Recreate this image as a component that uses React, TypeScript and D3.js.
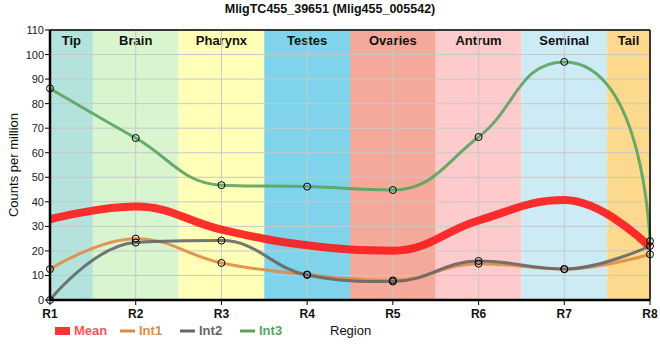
import React from "react";
import * as d3 from "d3";

const regions = ["R1", "R2", "R3", "R4", "R5", "R6", "R7", "R8"];
const int1 = [12.6, 25, 15.1, 10.4, 8.0, 14.8, 12.6, 18.6];
const int2 = [0, 23.4, 24.2, 10.2, 7.5, 15.9, 12.6, 22.0];
const int3 = [86.2, 66, 46.8, 46.2, 44.8, 66.4, 97, 24.0];
const mean = [32.9, 38.1, 28.7, 22.3, 20.1, 32.4, 40.7, 21.5];
const yTicks = [0, 10, 20, 30, 40, 50, 60, 70, 80, 90, 100, 110];
const bandNames = ["Tip", "Brain", "Pharynx", "Testes", "Ovaries", "Antrum", "Seminal", "Tail"];
const bandColors = ["#b4e3de", "#d9f5d0", "#ffffb7", "#7fd4eb", "#f4a99b", "#fdcbcb", "#cdebf4", "#fcd98c"];

const W = 660, H = 360;
const L = 50, R = 650, T = 30, B = 300;

// Smooth spline: tangent from neighbours (no false extremes),
// handle length proportional to the pixel chord of each segment.
function splinePath(pts: [number, number][]): string {
  const n = pts.length;
  const K = 0.4;
  const slopes: (number | null)[] = [];
  for (let i = 0; i < n; i++) {
    if (i === 0 || i === n - 1) {
      slopes.push(null);
      continue;
    }
    const [x, y] = pts[i];
    const [px, py] = pts[i - 1];
    const [nx, ny] = pts[i + 1];
    const lx = x + K * (px - x);
    let ly = y + K * (py - y);
    const rx = x + K * (nx - x);
    let ry = y + K * (ny - y);
    const corr = ((ry - ly) * (rx - x)) / (rx - lx) + y - ry;
    ly += corr;
    ry += corr;
    if (ly > py && ly > y) {
      ly = Math.max(py, y);
      ry = 2 * y - ly;
    } else if (ly < py && ly < y) {
      ly = Math.min(py, y);
      ry = 2 * y - ly;
    }
    if (ry > ny && ry > y) {
      ry = Math.max(ny, y);
      ly = 2 * y - ry;
    } else if (ry < ny && ry < y) {
      ry = Math.min(ny, y);
      ly = 2 * y - ry;
    }
    slopes.push((ry - ly) / (rx - lx));
  }
  const ctrl = (i: number, dir: 1 | -1, chord: number, dxSeg: number): [number, number] => {
    const m = slopes[i];
    if (m === null) return pts[i];
    const len = K * chord;
    const norm = Math.sqrt(1 + m * m);
    let dx = len / norm;
    if (dx > dxSeg * 0.95) dx = dxSeg * 0.95;
    return [pts[i][0] + dir * dx, pts[i][1] + dir * dx * m];
  };
  const p = d3.path();
  p.moveTo(pts[0][0], pts[0][1]);
  for (let i = 1; i < n; i++) {
    const [x0, y0] = pts[i - 1];
    const [x1, y1] = pts[i];
    const chord = Math.hypot(x1 - x0, y1 - y0);
    const c1 = ctrl(i - 1, 1, chord, x1 - x0);
    const c2 = ctrl(i, -1, chord, x1 - x0);
    p.bezierCurveTo(c1[0], c1[1], c2[0], c2[1], x1, y1);
  }
  return p.toString();
}

export default function App() {
  const x = d3.scalePoint<string>().domain(regions).range([L, R]);
  const y = d3.scaleLinear().domain([0, 110]).range([B, T]);
  const step = x.step();
  const line = (vals: number[]) =>
    splinePath(vals.map((v, i) => [x(regions[i]) as number, y(v)] as [number, number]));

  const series = [
    { name: "Int1", values: int1, color: "#e08b45", width: 3 },
    { name: "Int2", values: int2, color: "#666666", width: 3 },
    { name: "Int3", values: int3, color: "#5aa35f", width: 3 },
  ];

  const font = "Liberation Sans, Arial, sans-serif";

  return (
    <svg width={W} height={H} style={{ position: "absolute", left: 0, top: 0 }} fontFamily={font}>
      <rect x={0} y={0} width={W} height={H} fill="#fff" />
      {bandNames.map((n, i) => {
        const cx = x(regions[0]) as number;
        const x0 = Math.max(L, cx + (i - 0.5) * step);
        const x1 = Math.min(R, cx + (i + 0.5) * step);
        return (
          <g key={n}>
            <rect x={x0} y={T} width={x1 - x0} height={B - T} fill={bandColors[i]} />
            <text x={(x0 + x1) / 2} y={T + 15} textAnchor="middle" fontSize={13} fontWeight="bold" fill="#111">
              {n}
            </text>
          </g>
        );
      })}
      {yTicks.map((t) => (
        <line key={"gy" + t} x1={L} x2={R} y1={y(t)} y2={y(t)} stroke="#c8c8c8" strokeWidth={1} />
      ))}
      {regions.map((r) => (
        <line key={"gx" + r} x1={x(r)} x2={x(r)} y1={T} y2={B} stroke="#c8c8c8" strokeWidth={1} />
      ))}
      <path d={line(mean)} fill="none" stroke="#ff1a1a" strokeOpacity={0.9} strokeWidth={8} />
      {series.map((s) => (
        <path key={s.name} d={line(s.values)} fill="none" stroke={s.color} strokeOpacity={0.9} strokeWidth={s.width} />
      ))}
      {series.map((s) =>
        s.values.map((v, i) => (
          <circle key={s.name + i} cx={x(regions[i])} cy={y(v)} r={3.5} fill="none" stroke="#000" strokeWidth={1} />
        ))
      )}
      <line x1={L} x2={L} y1={T} y2={B + 1} stroke="#000" strokeWidth={2.5} />
      <line x1={L} x2={R} y1={B} y2={B} stroke="#000" strokeWidth={2.5} />
      <line x1={R} x2={R} y1={T} y2={B} stroke="#000" strokeWidth={1.5} />
      <line x1={L} x2={R} y1={T} y2={T} stroke="#000" strokeWidth={1.5} />
      {yTicks.map((t) => (
        <g key={"yt" + t}>
          <line x1={L - 5} x2={L} y1={y(t)} y2={y(t)} stroke="#000" />
          <text x={L - 6} y={y(t) + 4} textAnchor="end" fontSize={11} fill="#222">
            {t}
          </text>
        </g>
      ))}
      {regions.map((r) => (
        <g key={"xt" + r}>
          <line x1={x(r)} x2={x(r)} y1={B} y2={B + 5} stroke="#000" />
          <text x={x(r)} y={B + 18} textAnchor="middle" fontSize={12} fontWeight="bold" fill="#111">
            {r}
          </text>
        </g>
      ))}
      <text x={330} y={13} textAnchor="middle" fontSize={12.5} fontWeight="bold" fill="#111">
        MligTC455_39651 (Mlig455_005542)
      </text>
      <text transform={`translate(18,${(T + B) / 2}) rotate(-90)`} textAnchor="middle" fontSize={13} fill="#111">
        Counts per million
      </text>
      <text x={330} y={335} fontSize={13} fill="#111">
        Region
      </text>
      <rect x={55} y={327} width={15} height={8} fill="#ff3333" />
      <text x={74} y={335} fontSize={13} fontWeight="bold" fill="#ff5555">Mean</text>
      {series.map((s, i) => (
        <g key={"lg" + s.name}>
          <line x1={120 + i * 60} x2={135 + i * 60} y1={331} y2={331} stroke={s.color} strokeWidth={3} />
          <text x={139 + i * 60} y={335} fontSize={13} fontWeight="bold" fill={s.color}>
            {s.name}
          </text>
        </g>
      ))}
    </svg>
  );
}
